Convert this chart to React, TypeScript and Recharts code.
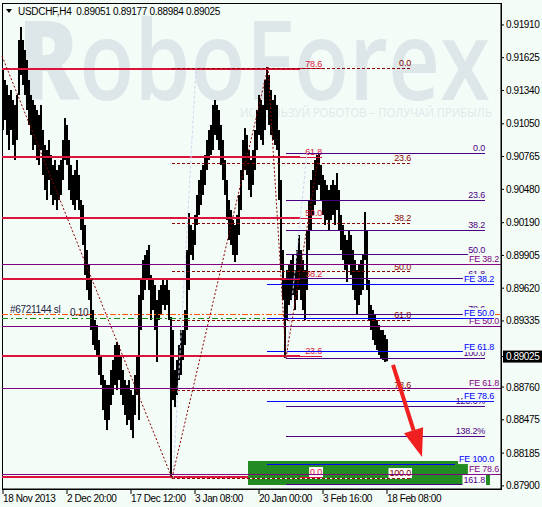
import React from "react";
import { ComposedChart, Bar, XAxis, YAxis, ReferenceLine, ReferenceArea } from "recharts";

const W = 542;
const H = 507;
const BG = "#f4fcf7";
const FONT = "'Liberation Sans', Arial, sans-serif";
const CRIMSON = "#dc143c";
const DARKRED = "#8b0000";
const INDIGO = "#4b0082";
const PURPLE = "#800080";
const BLUE = "#0000ff";

const symbol = "USDCHF,H4";
const quote = [0.89051, 0.89177, 0.88984, 0.89025]; // O H L C of the current bar
const lastClose = quote[3];

// every second H4 bar from 18 Nov 2013 00:00 (t = bar index)
const barHigh = [
  0.91518, 0.91431, 0.91388, 0.91301, 0.91344, 0.91257, 0.91214, 0.91301, 0.91779, 0.91892,
  0.91779, 0.91692, 0.91605, 0.91431, 0.91301, 0.91257, 0.91214, 0.9117, 0.91127, 0.91214,
  0.90996, 0.90866, 0.90822, 0.90909, 0.90779, 0.90692, 0.90735, 0.90648, 0.90692, 0.90735,
  0.90909, 0.911, 0.9104, 0.90909, 0.90692, 0.90605, 0.90648, 0.90735, 0.90605, 0.90387,
  0.90344, 0.9017, 0.89952, 0.89822, 0.89691, 0.8943, 0.89343, 0.893, 0.89169, 0.89039,
  0.88865, 0.88821, 0.88778, 0.88778, 0.88908, 0.88995, 0.89126, 0.89152, 0.89126, 0.89039,
  0.88908, 0.88821, 0.88778, 0.88821, 0.88734, 0.88691, 0.88865, 0.89039, 0.89561, 0.89691,
  0.89865, 0.89909, 0.89952, 0.89996, 0.89735, 0.89691, 0.89648, 0.89517, 0.89604, 0.89648,
  0.89691, 0.89648, 0.89691, 0.89604, 0.89369, 0.89256, 0.88908, 0.88995, 0.89126, 0.89256,
  0.89256, 0.8943, 0.89952, 0.90274, 0.9017, 0.90126, 0.90257, 0.90431, 0.90561, 0.90648,
  0.90692, 0.90779, 0.90909, 0.90996, 0.9104, 0.91214, 0.91257, 0.91214, 0.9117, 0.9104,
  0.90909, 0.90735, 0.90561, 0.90387, 0.903, 0.90213, 0.9017, 0.90257, 0.90431, 0.90648,
  0.90909, 0.91013, 0.90953, 0.90822, 0.90735, 0.90822, 0.90996, 0.9117, 0.91301, 0.91257,
  0.91214, 0.91431, 0.91544, 0.91475, 0.91344, 0.91257, 0.91301, 0.91214, 0.90996, 0.90561,
  0.89952, 0.89691, 0.89778, 0.89822, 0.89865, 0.89909, 0.89778, 0.89952, 0.90083, 0.89952,
  0.89865, 0.89778, 0.90126, 0.90387, 0.90561, 0.90648, 0.90735, 0.90779, 0.90796, 0.90692,
  0.90605, 0.90561, 0.90518, 0.90474, 0.90518, 0.90561, 0.90518, 0.90622, 0.90474, 0.90257,
  0.9017, 0.90083, 0.90039, 0.90126, 0.90083, 0.89952, 0.89865, 0.89778, 0.89822, 0.89865,
  0.89909, 0.90283, 0.90126, 0.89691, 0.89474, 0.8943, 0.89387, 0.89343, 0.893, 0.89256,
  0.89256, 0.89213, 0.89177,
];
const barLow = [
  0.90996, 0.91083, 0.90953, 0.90822, 0.90996, 0.90866, 0.90735, 0.90909, 0.91301, 0.91475,
  0.91388, 0.91301, 0.9117, 0.9104, 0.90953, 0.90822, 0.90866, 0.90735, 0.90692, 0.90822,
  0.90605, 0.90474, 0.90387, 0.90561, 0.90431, 0.90344, 0.90387, 0.903, 0.90387, 0.90431,
  0.90561, 0.90735, 0.90692, 0.90474, 0.90387, 0.90344, 0.903, 0.90387, 0.903, 0.90126,
  0.89996, 0.89735, 0.89604, 0.89517, 0.89256, 0.89126, 0.89082, 0.89039, 0.88865, 0.88778,
  0.8856, 0.88473, 0.88386, 0.88473, 0.88604, 0.88691, 0.88778, 0.88734, 0.88821, 0.88691,
  0.88604, 0.88517, 0.8843, 0.88473, 0.88386, 0.88316, 0.88517, 0.88691, 0.88473, 0.89256,
  0.89517, 0.89604, 0.89691, 0.89604, 0.89343, 0.8943, 0.89256, 0.88978, 0.89343, 0.89387,
  0.89474, 0.8943, 0.89474, 0.89343, 0.87968, 0.88647, 0.88586, 0.88691, 0.88821, 0.88865,
  0.88995, 0.89126, 0.89256, 0.89604, 0.89909, 0.89865, 0.89996, 0.9017, 0.90257, 0.90344,
  0.90431, 0.90518, 0.90648, 0.90735, 0.90779, 0.90822, 0.90953, 0.90909, 0.90822, 0.90692,
  0.90561, 0.90431, 0.90213, 0.90039, 0.89996, 0.89909, 0.89848, 0.89909, 0.90083, 0.903,
  0.90561, 0.90648, 0.90605, 0.90474, 0.90413, 0.90518, 0.90648, 0.90822, 0.90953, 0.90909,
  0.90866, 0.90996, 0.9117, 0.9104, 0.90953, 0.90909, 0.90866, 0.90822, 0.90387, 0.89778,
  0.89517, 0.89012, 0.89343, 0.89474, 0.89517, 0.89561, 0.8943, 0.89517, 0.89604, 0.89517,
  0.8943, 0.89343, 0.89604, 0.89952, 0.90126, 0.90257, 0.90344, 0.90474, 0.90518, 0.90387,
  0.90257, 0.9017, 0.90213, 0.90126, 0.90213, 0.90257, 0.9017, 0.903, 0.90126, 0.89952,
  0.89865, 0.89778, 0.89674, 0.89822, 0.89735, 0.89604, 0.89517, 0.89387, 0.89474, 0.89561,
  0.89604, 0.89865, 0.89604, 0.89343, 0.89256, 0.89169, 0.89126, 0.89082, 0.89039, 0.89012,
  0.88995, 0.88978, 0.88984,
];

const timeTicks = [0, 64, 128, 192, 256, 320, 384];
const timeLabels = ["18 Nov 2013", "2 Dec 20:00", "17 Dec 12:00", "3 Jan 08:00", "20 Jan 00:00", "3 Feb 16:00", "18 Feb 08:00"];
const priceTicks = [0.9191, 0.91625, 0.9134, 0.9105, 0.90765, 0.9048, 0.9019, 0.89905, 0.8962, 0.89335, 0.8876, 0.88475, 0.88185, 0.879];
const X_DOMAIN = [-1, 498];
const Y_DOMAIN = [0.87873, 0.92101];

// retracement drawn from the November high (thick crimson)
const redFibLabels = ["78.6", "61.8", "50.0", "38.2", "23.6", "0.0"];
const redFibPrices = [0.91527, 0.90761, 0.9023, 0.897, 0.8903, 0.87977];
// retracement 17 Dec low -> 24 Jan high (dashed)
const darkFibLabels = ["0.0", "23.6", "38.2", "50.0", "61.8", "78.6", "100.0"];
const darkFibPrices = [0.91535, 0.90709, 0.90187, 0.89761, 0.89343, 0.88734, 0.87968];
// retracement / extension of the late January swing
const indigoFibLabels = ["0.0", "23.6", "38.2", "50.0", "61.8", "78.6", "100.0", "123.6%", "138.2%", "161.8"];
const indigoFibPrices = [0.90796, 0.90387, 0.90126, 0.89909, 0.897, 0.89395, 0.89012, 0.88595, 0.88334, 0.87908];
// fibo expansions
const feWideLabels = ["FE 38.2", "FE 50.0", "FE 61.8", "FE 78.6"];
const feWidePrices = [0.8983, 0.89291, 0.88751, 0.88003];
const feBlueLabels = ["FE 38.2", "FE 50.0", "FE 61.8", "FE 78.6", "FE 100.0"];
const feBluePrices = [0.89656, 0.8936, 0.89065, 0.88638, 0.8809];

// order lines
const slPrice = 0.89395;
const orderPrice = 0.89352;
const orderTicket = "#6721144 sl";
const orderLots = "0.10";

// target zone
const zoneTime = [245, 487];
const zonePrice = [0.87908, 0.88116];

// zigzag swing points [t, price]
const zigzag: [number, number][] = [
  [-1, 0.9164],
  [169, 0.87968],
  [265, 0.91544],
  [283, 0.89012],
  [316, 0.90796],
];
const anchorLines: [number, number, number, number][] = [
  [170, 0.87968, 193, 0.91535],
  [283, 0.89012, 304, 0.90796],
];
const forecast = [390, 0.88952, 419, 0.88151];

const charW = (c: string) =>
  c === "." || c === " " ? 2.5 : c === "%" ? 8 : c === "F" ? 5.5 : c === "E" ? 6 : 5;
const textWidth = (s: string) => s.split("").reduce((a, c) => a + charW(c) - 0.2, 0);

const tag = (text: string, color: string, dx = 0, box?: string) => (props: any) => {
  const vb = props.viewBox;
  if (!vb) return null;
  const right = vb.x + vb.width + dx;
  const base = vb.y - 2;
  const w = textWidth(text);
  return (
    <g>
      {box ? <rect x={right - w - 1} y={base - 8} width={w + 2} height={10} fill={box} /> : null}
      <text x={right} y={base} textAnchor="end" fill={color} fontSize={9} letterSpacing={-0.2} fontFamily={FONT}>
        {text}
      </text>
    </g>
  );
};

const orderTag = (props: any) => {
  const vb = props.viewBox;
  if (!vb) return null;
  return (
    <g fontFamily={FONT} fontSize={10} letterSpacing={-0.3} fill="#1c2340">
      <text x={vb.x + 8} y={vb.y - 1}>{orderTicket}</text>
      <text x={vb.x + 68} y={vb.y + 2}>{orderLots}</text>
    </g>
  );
};

const arrowShape = (props: any) => {
  const { x1, y1, x2, y2 } = props;
  const dx = x2 - x1;
  const dy = y2 - y1;
  const len = Math.hypot(dx, dy);
  const ux = dx / len;
  const uy = dy / len;
  const bx = x2 - ux * 28;
  const by = y2 - uy * 28;
  const px = -uy * 10;
  const py = ux * 10;
  return (
    <g>
      <line x1={x1} y1={y1} x2={bx} y2={by} stroke="#f02020" strokeWidth={4} />
      <polygon points={`${x2},${y2} ${bx + px},${by + py} ${bx - px},${by - py}`} fill="#f02020" />
    </g>
  );
};

// H4 bar drawn as a solid 2px high-low stroke snapped to the pixel grid
const priceBar = (p: any) => {
  const top = Math.min(p.y, p.y + p.height);
  const h = Math.max(Math.abs(p.height), 1);
  return <rect x={Math.round(p.x + p.width / 2) - 1} y={top} width={2} height={h} fill="#000" />;
};

function TimeTick(props: any) {
  const { x, y, payload } = props;
  const i = timeTicks.indexOf(payload.value);
  return (
    <text x={x} y={y + 6} fontSize={10} letterSpacing={-0.4} fontFamily={FONT} fill="#000">
      {timeLabels[i]}
    </text>
  );
}

function PriceTick(props: any) {
  const { x, y, payload } = props;
  const v = payload.value;
  const isLast = Math.abs(v - lastClose) < 1e-9;
  return (
    <g>
      {isLast ? <rect x={x - 3} y={y - 6} width={W - x + 3} height={12} fill="#000" /> : null}
      <text x={x} y={y + 3.5} fontSize={10} letterSpacing={-0.4} fontFamily={FONT} fill={isLast ? "#fff" : "#000"}>
        {v.toFixed(5)}
      </text>
    </g>
  );
}

export default function App() {
  const bars = barHigh.map((h, i) => ({ t: i * 2, range: [barLow[i], h] }));
  const seg = (t1: number, p1: number, t2: number, p2: number) => [
    { x: t1, y: p1 },
    { x: t2, y: p2 },
  ];

  return (
    <div style={{ position: "absolute", left: 0, top: 0, width: W, height: H, background: BG, overflow: "hidden" }}>
      <svg width={W} height={H} style={{ position: "absolute", left: 0, top: 0 }}>
        <text x={18} y={100} fontSize={110} fontWeight={600} fill="#dde7e9" fontFamily="'Open Sans', sans-serif" textLength={472} lengthAdjust="spacingAndGlyphs">
          <tspan fontWeight={800}>R</tspan>oboForex
        </text>
        <text x={240} y={117} fontSize={12} fill="#e1e8ea" fontFamily="'Open Sans', sans-serif" textLength={252} lengthAdjust="spacingAndGlyphs">
          ИСПОЛЬЗУЙ РОБОТОВ – ПОЛУЧАЙ ПРИБЫЛЬ
        </text>
      </svg>

      <div style={{ position: "absolute", left: 0, top: 0 }}>
        <ComposedChart width={W} height={H} data={bars} margin={{ top: 3, right: 0, bottom: 0, left: 2 }} barCategoryGap={0} barGap={0}>
          <XAxis
            dataKey="t"
            type="number"
            domain={X_DOMAIN}
            allowDataOverflow
            ticks={timeTicks}
            interval={0}
            height={18}
            tickSize={5}
            tickMargin={2}
            axisLine={{ stroke: "#000" }}
            tickLine={{ stroke: "#000" }}
            tick={<TimeTick />}
          />
          <YAxis
            orientation="right"
            type="number"
            domain={Y_DOMAIN}
            allowDataOverflow
            ticks={[...priceTicks, lastClose]}
            interval={0}
            width={41}
            tickSize={3}
            tickMargin={2}
            axisLine={{ stroke: "#000" }}
            tickLine={{ stroke: "#000" }}
            tick={<PriceTick />}
          />

          <Bar dataKey="range" fill="#000" barSize={2} shape={priceBar} isAnimationActive={false} />

          {redFibPrices.map((p, i) => (
            <ReferenceLine key={`rf${i}`} segment={seg(-1, p, 297, p)} stroke={CRIMSON} strokeWidth={2} ifOverflow="visible" zIndex={320} shapeRendering="crispEdges" />
          ))}

          <ReferenceArea x1={zoneTime[0]} x2={zoneTime[1]} y1={zonePrice[0]} y2={zonePrice[1]} fill="#228b22" fillOpacity={1} stroke="none" ifOverflow="visible" zIndex={350} shapeRendering="crispEdges" />

          {redFibPrices.map((p, i) => (
            <ReferenceLine key={`rt${i}`} segment={seg(297, p, 319, p)} stroke={CRIMSON} strokeWidth={1} ifOverflow="visible" shapeRendering="crispEdges" label={tag(redFibLabels[i], CRIMSON, 0, i === redFibPrices.length - 1 ? "#fff" : undefined)} />
          ))}

          <ReferenceLine segment={seg(zoneTime[0], darkFibPrices[6], 407, darkFibPrices[6])} stroke="#fff" strokeWidth={1} ifOverflow="visible" shapeRendering="crispEdges" />
          {darkFibPrices.map((p, i) => (
            <ReferenceLine key={`df${i}`} segment={seg(169, p, 407, p)} stroke={DARKRED} strokeWidth={1} strokeDasharray="3 2" ifOverflow="visible" shapeRendering="crispEdges" label={tag(darkFibLabels[i], DARKRED, 1, i === 6 ? "#fff" : undefined)} />
          ))}

          <ReferenceLine segment={seg(-1, slPrice, 498, slPrice)} stroke="#ff5a00" strokeWidth={1} strokeDasharray="6 2 2 2" ifOverflow="visible" shapeRendering="crispEdges" label={orderTag} />
          <ReferenceLine segment={seg(-1, orderPrice, 498, orderPrice)} stroke="#138a13" strokeWidth={1} strokeDasharray="6 3 2 3" ifOverflow="visible" shapeRendering="crispEdges" />

          {indigoFibPrices.map((p, i) => (
            <ReferenceLine key={`if${i}`} segment={seg(283, p, 482, p)} stroke={INDIGO} strokeWidth={1} ifOverflow="visible" shapeRendering="crispEdges" label={tag(indigoFibLabels[i], INDIGO, 0, i === 9 ? "#fff" : undefined)} />
          ))}

          {feWidePrices.map((p, i) => (
            <ReferenceLine key={`fw${i}`} segment={seg(-1, p, 498, p)} stroke={PURPLE} strokeWidth={1} ifOverflow="visible" shapeRendering="crispEdges" label={tag(feWideLabels[i], PURPLE, -2, BG)} />
          ))}

          {feBluePrices.map((p, i) => {
            const last = i === feBluePrices.length - 1;
            return (
              <ReferenceLine key={`fb${i}`} segment={seg(264, p, last ? 452 : 491, p)} stroke={BLUE} strokeWidth={1} ifOverflow="visible" shapeRendering="crispEdges" label={tag(feBlueLabels[i], BLUE, last ? 39 : 0, BG)} />
            );
          })}

          {anchorLines.map((a, i) => (
            <ReferenceLine key={`al${i}`} segment={seg(a[0], a[1], a[2], a[3])} stroke="#d2d6f4" strokeWidth={1} strokeDasharray="3 2" ifOverflow="visible" />
          ))}

          {zigzag.slice(1).map((pt, i) => (
            <ReferenceLine key={`zz${i}`} segment={seg(zigzag[i][0], zigzag[i][1], pt[0], pt[1])} stroke={DARKRED} strokeWidth={1} strokeDasharray="2 2" ifOverflow="visible" />
          ))}

          <ReferenceLine segment={seg(forecast[0], forecast[1], forecast[2], forecast[3])} shape={arrowShape} ifOverflow="visible" />

          <ReferenceArea x1={X_DOMAIN[0]} x2={X_DOMAIN[1]} y1={Y_DOMAIN[0]} y2={Y_DOMAIN[1]} fill="none" stroke="#000" strokeWidth={1} ifOverflow="visible" shapeRendering="crispEdges" />
        </ComposedChart>
      </div>

      <svg width={W} height={30} style={{ position: "absolute", left: 0, top: 0, pointerEvents: "none" }}>
        <polygon points="6,9 12,9 9,13" fill="#000" />
        <text x={18} y={14.5} fontSize={10} letterSpacing={-0.3} fontFamily={FONT} fill="#000" style={{ whiteSpace: "pre" }}>
          {`${symbol}  ${quote.map((q) => q.toFixed(5)).join(" ")}`}
        </text>
      </svg>
    </div>
  );
}
